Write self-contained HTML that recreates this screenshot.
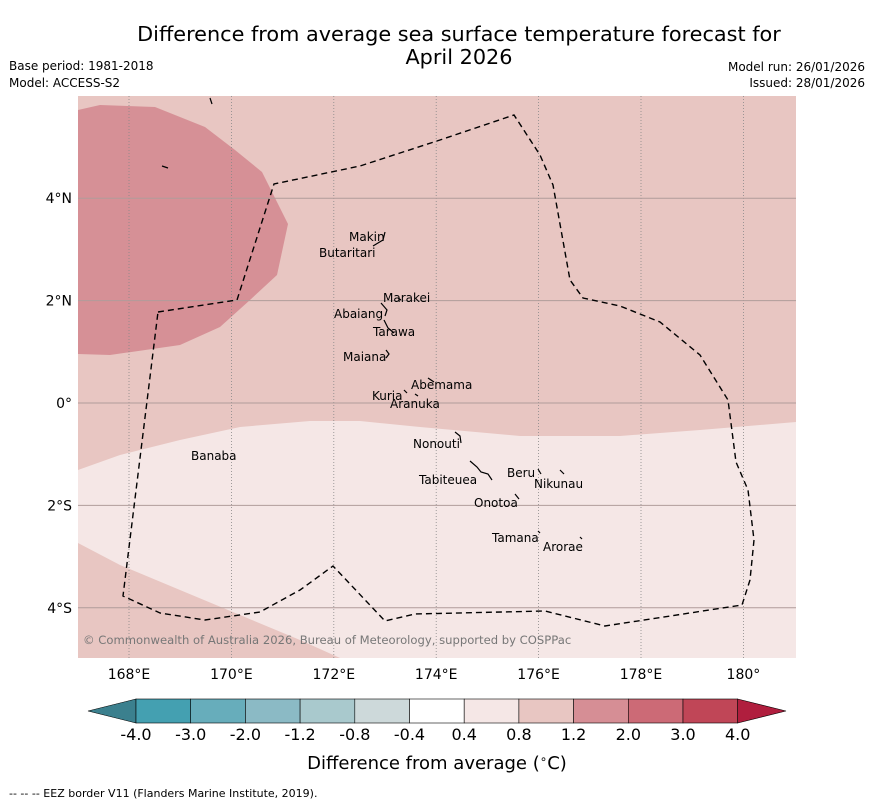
<!DOCTYPE html>
<html><head><meta charset="utf-8"><style>
body{margin:0;background:#fff;width:873px;height:804px;overflow:hidden;font-family:"Liberation Sans","DejaVu Sans",sans-serif}
</style></head><body>
<svg width="873" height="804" xmlns="http://www.w3.org/2000/svg" font-family="'DejaVu Sans','Liberation Sans',sans-serif">
<text x="459" y="41" font-size="20.8" text-anchor="middle">Difference from average sea surface temperature forecast for</text>
<text x="459" y="64" font-size="20.8" text-anchor="middle">April 2026</text>
<text x="9" y="70" font-size="12">Base period: 1981-2018</text>
<text x="9" y="87" font-size="12">Model: ACCESS-S2</text>
<text x="865" y="71" font-size="12" text-anchor="end">Model run: 26/01/2026</text>
<text x="865" y="87" font-size="12" text-anchor="end">Issued: 28/01/2026</text>
<defs><clipPath id="mc"><rect x="78" y="96" width="718" height="562"/></clipPath></defs>
<g clip-path="url(#mc)">
<rect x="78" y="96" width="718" height="562" fill="#e8c6c2"/>
<polygon fill="#d69096" points="78,110 100,105 155,107 205,127 235,150 262,172 288,224 277,275 250,300 220,327 180,345 110,355 78,354"/>
<polygon fill="#f5e7e6" points="78,470 120,455 180,440 240,427 310,421 360,421 420,427 520,436 620,436 700,430 796,422 796,658 340,658 300,640 240,615 180,590 120,565 78,543"/>
<g id="grid"></g>
<polyline fill="none" stroke="#000" stroke-width="1.4" stroke-dasharray="6,4" points="158,312 237,300 274,184 360,166 440,140 514,115 540,155 553,185 570,280 583,298 620,306 660,322 700,355 728,400 736,462 748,490 754,540 750,580 742,605 605,626 545,611 415,614 385,621 333,566 300,590 260,612 205,620 160,613 123,596 158,312"/>
<g fill="none" stroke="#000" stroke-width="1.2">
<path d="M373,246 L383,240 L385,232"/><path d="M381,303 L387,310 L385,316"/><path d="M384,320 L388,328 L394,333"/><path d="M386,350 L389,354 L386,358"/><path d="M428,378 L434,382"/><path d="M404,390 L407,393"/><path d="M415,394 L418,396"/><path d="M455,432 L460,436 L461,443"/><path d="M470,461 L477,467 L481,472 L488,474 L492,480"/><path d="M538,469 L541,474"/><path d="M560,470 L564,474"/><path d="M515,494 L519,499"/><path d="M538,531 L540,533"/><path d="M580,537 L582,539"/><path d="M398,298 L401,300"/><path d="M210,98 L212,104"/><path d="M162,166 L168,168"/>
</g>
<g font-size="12" fill="#000">
<text x="349" y="241">Makin</text><text x="319" y="257">Butaritari</text><text x="383" y="302">Marakei</text><text x="334" y="318">Abaiang</text><text x="373" y="336">Tarawa</text><text x="343" y="361">Maiana</text><text x="411" y="389">Abemama</text><text x="372" y="400">Kuria</text><text x="390" y="408">Aranuka</text><text x="413" y="448">Nonouti</text><text x="191" y="460">Banaba</text><text x="507" y="477">Beru</text><text x="419" y="484">Tabiteuea</text><text x="534" y="488">Nikunau</text><text x="474" y="507">Onotoa</text><text x="492" y="542">Tamana</text><text x="543" y="551">Arorae</text>
</g>
<text x="83" y="644" font-size="11.6" fill="#777">© Commonwealth of Australia 2026, Bureau of Meteorology, supported by COSPPac</text>
</g>
<g id="axes"></g>
<g id="cbar"></g>
<text x="437" y="769" font-size="18" text-anchor="middle">Difference from average (<tspan font-size="12" dy="-6">∘</tspan><tspan dy="6">C)</tspan></text>
<text x="9" y="797" font-size="11">--  --  -- EEZ border V11 (Flanders Marine Institute, 2019).</text>
</svg>
<script>
const lonTicks=[168,170,172,174,176,178,180];
const latTicks=[4,2,0,-2,-4];
const bounds=["-4.0","-3.0","-2.0","-1.2","-0.8","-0.4","0.4","0.8","1.2","2.0","3.0","4.0"];
const binColors=["#44a0b1","#67adbb","#8bbac5","#a9c9cd","#cdd9da","#ffffff","#f5e7e6","#e8c6c2","#d68e95","#cc6a76","#c04657"];
const NS="http://www.w3.org/2000/svg";
const xOf=lon=>129+(lon-168)*51.2;
const yOf=lat=>403-lat*51.2;
function mk(t,a,p){const e=document.createElementNS(NS,t);for(const k in a)e.setAttribute(k,a[k]);p.appendChild(e);return e;}
const grid=document.getElementById('grid'),axes=document.getElementById('axes'),cb=document.getElementById('cbar');
lonTicks.forEach(l=>{const x=xOf(l);
const g=mk('line',{x1:x,x2:x,y1:96,y2:658,stroke:'#888','stroke-width':0.8,'stroke-dasharray':'1,2'},grid);


const t=mk('text',{x:x,y:679,'font-size':14,'text-anchor':'middle'},axes);t.textContent=l===180?'180°':l+'°E';

});
latTicks.forEach(l=>{const y=yOf(l);
const g=mk('line',{x1:78,x2:796,y1:y,y2:y,stroke:'#b09c9a','stroke-width':1},grid);


const t=mk('text',{x:72,y:y+5,'font-size':14,'text-anchor':'end'},axes);t.textContent=l===0?'0°':Math.abs(l)+'°'+(l>0?'N':'S');

});
const cx0=136,cw=54.7,cy=699,ch=24;
const la=mk('polygon',{points:`88,711 ${cx0},${cy} ${cx0},${cy+ch}`,fill:'#3b808e',stroke:'#000','stroke-width':0.6},cb);


binColors.forEach((c,i)=>{const r=mk('rect',{x:cx0+i*cw,y:cy,width:cw,height:ch,fill:c,stroke:'#000','stroke-width':0.6},cb);

});
const xe=cx0+binColors.length*cw;
const ra=mk('polygon',{points:`${xe},${cy} 786,711 ${xe},${cy+ch}`,fill:'#b01e3e',stroke:'#000','stroke-width':0.6},cb);


bounds.forEach((b,i)=>{const t=mk('text',{x:cx0+i*cw,y:740,'font-size':16,'text-anchor':'middle'},cb);t.textContent=b;

});
</script>
</body></html>
